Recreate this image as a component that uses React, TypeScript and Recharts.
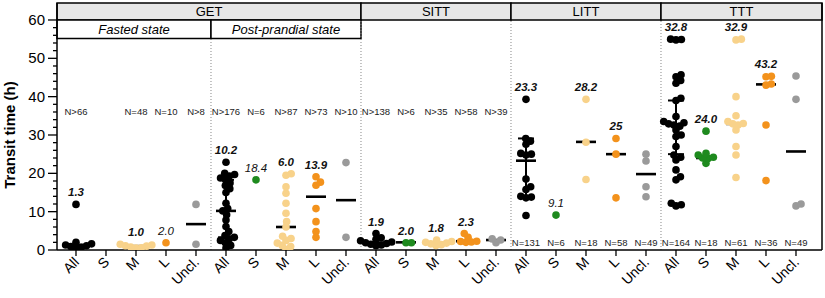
import {
  ErrorBar,
  ReferenceArea,
  ReferenceLine,
  Scatter,
  ScatterChart,
  XAxis,
  YAxis,
} from "recharts";

const FONT = '"Liberation Sans", Arial, Helvetica, sans-serif';

// x categories, five per panel: GET fasted, GET post-prandial, SITT, LITT, TTT
const tickLabels = [
  "All", "S", "M", "L", "Uncl.",
  "All", "S", "M", "L", "Uncl.",
  "All", "S", "M", "L", "Uncl.",
  "All", "S", "M", "L", "Uncl.",
  "All", "S", "M", "L", "Uncl.",
];
const COLORS = ["#000000", "#1e8a1e", "#f8d28a", "#f3921c", "#9a9a9a"];

// transit times (h), one list per category (All, S, M, L, Uncl.)
const getFasted: number[][] = [
  [11.9, 2.0, 1.6, 1.3, 1.1, 0.9, 0.7, 0.5],
  [],
  [1.5, 1.3, 1.1, 1.0, 0.8, 0.6, 0.5],
  [1.9],
  [11.9, 1.5],
];
const getPostPrandial: number[][] = [
  [22.9, 20.0, 19.7, 19.3, 18.8, 18.3, 17.5, 16.8, 16.0, 15.0, 12.2, 10.8, 10.2, 9.2, 7.8, 6.1, 4.8, 3.8, 3.3, 2.9, 2.5, 1.9, 1.2, 0.5],
  [18.3],
  [19.9, 19.5, 16.5, 14.8, 12.2, 9.6, 7.4, 6.0, 3.6, 3.0, 2.5, 1.8, 1.2, 0.9, 0.2],
  [19.1, 17.7, 16.9, 10.8, 7.4, 4.8, 3.3],
  [22.8, 3.3],
];
const sitt: number[][] = [
  [4.3, 3.2, 2.8, 2.4, 2.1, 1.9, 1.7, 1.5, 1.3, 1.1],
  [1.9, 1.9],
  [2.6, 2.2, 2.0, 1.8, 1.6, 1.4, 1.2],
  [4.3, 3.3, 2.3, 2.2, 2.1, 2.0],
  [2.9, 2.6, 1.9],
];
const litt: number[][] = [
  [39.3, 29.1, 28.4, 27.6, 25.2, 25.0, 24.8, 18.5, 16.5, 15.8, 14.0, 13.8, 13.6, 9.0],
  [9.1],
  [39.3, 28.1, 18.4],
  [29.1, 25.0, 13.6],
  [25.0, 23.2, 16.5, 13.9],
];
const ttt: number[][] = [
  [55.0, 54.9, 54.8, 45.7, 45.2, 44.2, 43.5, 39.6, 39.0, 34.8, 33.5, 33.2, 32.9, 32.6, 32.3, 31.3, 30.0, 29.6, 27.0, 24.8, 24.2, 23.5, 20.9, 19.1, 18.3, 12.2, 11.8, 11.5],
  [31.0, 25.2, 24.8, 24.2, 24.0, 23.9, 22.6],
  [55.0, 54.8, 40.0, 35.0, 33.5, 33.0, 32.9, 32.6, 31.3, 27.0, 24.8, 18.9],
  [45.3, 45.2, 43.3, 43.0, 32.6, 18.1],
  [45.4, 39.3, 12.0, 11.5],
];

const medians: (number | null)[] = [
  1.3, null, 1.0, null, 6.75,
  10.2, null, 6.0, 13.9, 13.0,
  1.9, 2.0, 1.8, 2.3, 2.6,
  23.3, null, 28.2, 25, 19.8,
  32.8, 24.0, 32.9, 43.2, 25.7,
];
const medianLabels = [
  "1.3", "", "1.0", "2.0", "",
  "10.2", "18.4", "6.0", "13.9", "",
  "1.9", "2.0", "1.8", "2.3", "",
  "23.3", "9.1", "28.2", "25", "",
  "32.8", "24.0", "32.9", "43.2", "",
];
const singleStudy = [3, 6, 16];
const iqrGroups = [5, 15, 20];
const iqrLow = [3.3, 14.0, 25.0];
const iqrHigh = [18.3, 29.1, 39.0];
const nLabels = [
  "N>66", "", "N=48", "N=10", "N>8",
  "N>176", "N=6", "N>87", "N>73", "N>10",
  "N>138", "N>6", "N>35", "N>58", "N>39",
  "N=131", "N=6", "N=18", "N=58", "N=49",
  "N=164", "N=18", "N=61", "N=36", "N=49",
];

const groups = [...getFasted, ...getPostPrandial, ...sitt, ...litt, ...ttt];

const X_MIN = -0.633;
const X_MAX = 24.867;
const Y_MAX = 64.43;
const PX_X = 30;
const PX_Y = 3.83;
const GAP = 5.4;

// simple beeswarm so that overlapping dots spread sideways
function swarm(values: number[]) {
  const sorted = [...values].sort((a, b) => a - b);
  const placed: { x: number; y: number }[] = [];
  for (const v of sorted) {
    const y = v * PX_Y;
    const cands = [0];
    for (const p of placed) {
      const dy = Math.abs(p.y - y);
      if (dy < GAP) {
        const dx = Math.sqrt(GAP * GAP - dy * dy);
        cands.push(p.x + dx, p.x - dx);
      }
    }
    cands.sort((a, b) => Math.abs(a) - Math.abs(b));
    const ok = cands.find((c) => placed.every((p) => (p.x - c) ** 2 + (p.y - y) ** 2 >= GAP * GAP - 0.01));
    placed.push({ x: ok ?? 0, y });
  }
  return sorted.map((v, i) => ({ v, dx: placed[i].x / PX_X }));
}

const pointsByColor = COLORS.map((_, c) =>
  groups.flatMap((vals, g) => (g % 5 === c ? swarm(vals).map((p) => ({ x: g + p.dx, y: p.v })) : []))
);
const medianData = medians.flatMap((m, g) => (m == null ? [] : [{ x: g, y: m }]));
const iqrData = iqrGroups.map((g, i) => {
  const m = medians[g] as number;
  return { x: g, y: m, err: [m - iqrLow[i], iqrHigh[i] - m] };
});
const labelData = groups.flatMap((vals, g) =>
  medianLabels[g] ? [{ x: g, y: Math.max(...vals), text: medianLabels[g], plain: singleStudy.includes(g) }] : []
);
const nData = nLabels.flatMap((t, g) => (t ? [{ x: g, y: g < 15 ? 36 : 1.9, text: t }] : []));

const yTicks = Array.from({ length: 31 }, (_, i) => i * 2);

function YTick({ x, y, payload }: any) {
  const major = payload.value % 10 === 0;
  return (
    <g>
      <line x1={x - (major ? 9 : 4)} x2={x} y1={y} y2={y} stroke="#000" strokeWidth={1.3} />
      {major && (
        <text x={x - 12} y={y} dy={5} textAnchor="end" fontSize={15} fontFamily={FONT} fill="#000">
          {payload.value}
        </text>
      )}
    </g>
  );
}

function XTick({ x, y, payload }: any) {
  const px = x + 4;
  const py = y + 5;
  return (
    <text x={px} y={py} transform={`rotate(-45 ${px} ${py})`} textAnchor="end" fontSize={14} fontFamily={FONT} fill="#000">
      {tickLabels[payload.value]}
    </text>
  );
}

const headerLabel = (value: string, italic = false) => ({
  value,
  position: "center" as const,
  fill: "#000",
  fontSize: 13,
  fontFamily: FONT,
  fontStyle: italic ? "italic" : "normal",
});

export default function App() {
  return (
    <div style={{ position: "absolute", left: 0, top: 0, background: "#fff" }}>
      <ScatterChart width={825} height={298} margin={{ top: 3, right: 3, bottom: 0, left: 0 }}>
        <XAxis
          type="number"
          dataKey="x"
          domain={[X_MIN, X_MAX]}
          allowDataOverflow
          ticks={tickLabels.map((_, i) => i)}
          interval={0}
          height={48}
          tickSize={6}
          tickLine={{ stroke: "#000", strokeWidth: 1.3 }}
          axisLine={{ stroke: "#000", strokeWidth: 1.5 }}
          tick={<XTick />}
        />
        <YAxis
          type="number"
          dataKey="y"
          domain={[0, Y_MAX]}
          allowDataOverflow
          ticks={yTicks}
          interval={0}
          width={57}
          tickSize={0}
          tickMargin={0}
          tickLine={false}
          axisLine={{ stroke: "#000", strokeWidth: 1.5 }}
          tick={<YTick />}
          label={{
            content: ({ viewBox }: any) => {
              const cx = viewBox.x + 15;
              const cy = viewBox.y + viewBox.height - 115;
              return (
                <text x={cx} y={cy} transform={`rotate(-90 ${cx} ${cy})`} textAnchor="middle" fontSize={15} fontWeight="bold" fontFamily={FONT} fill="#000">
                  Transit time (h)
                </text>
              );
            },
          }}
        />

        <ReferenceLine segment={[{ x: 4.5, y: 0 }, { x: 4.5, y: 55.2 }]} stroke="#888" strokeDasharray="1 2" />
        <ReferenceLine segment={[{ x: 9.5, y: 0 }, { x: 9.5, y: 60 }]} stroke="#888" strokeDasharray="1 2" />
        <ReferenceLine segment={[{ x: 14.5, y: 0 }, { x: 14.5, y: 60 }]} stroke="#888" strokeDasharray="1 2" />
        <ReferenceLine segment={[{ x: 19.5, y: 0 }, { x: 19.5, y: 60 }]} stroke="#888" strokeDasharray="1 2" />
        <ReferenceLine x={X_MAX} stroke="#000" strokeWidth={1.5} ifOverflow="visible" />

        <ReferenceArea x1={X_MIN} x2={9.5} y1={60} y2={Y_MAX} fill="#e6e6e6" fillOpacity={1} stroke="#000" strokeWidth={1.5} label={headerLabel("GET")} />
        <ReferenceArea x1={9.5} x2={14.5} y1={60} y2={Y_MAX} fill="#e6e6e6" fillOpacity={1} stroke="#000" strokeWidth={1.5} label={headerLabel("SITT")} />
        <ReferenceArea x1={14.5} x2={19.5} y1={60} y2={Y_MAX} fill="#e6e6e6" fillOpacity={1} stroke="#000" strokeWidth={1.5} label={headerLabel("LITT")} />
        <ReferenceArea x1={19.5} x2={X_MAX} y1={60} y2={Y_MAX} fill="#e6e6e6" fillOpacity={1} stroke="#000" strokeWidth={1.5} label={headerLabel("TTT")} />
        <ReferenceArea x1={X_MIN} x2={4.5} y1={55.2} y2={60} fill="#fff" fillOpacity={1} stroke="#000" strokeWidth={1.5} label={headerLabel("Fasted state", true)} />
        <ReferenceArea x1={4.5} x2={9.5} y1={55.2} y2={60} fill="#fff" fillOpacity={1} stroke="#000" strokeWidth={1.5} label={headerLabel("Post-prandial state", true)} />

        <Scatter data={iqrData} isAnimationActive={false} shape={() => <g />}>
          <ErrorBar dataKey="err" direction="y" width={8} stroke="#000" strokeWidth={2} />
        </Scatter>
        <Scatter
          data={medianData}
          isAnimationActive={false}
          shape={(p: any) => <line x1={p.cx - 10} x2={p.cx + 10} y1={p.cy} y2={p.cy} stroke="#000" strokeWidth={2.6} />}
        />
        {pointsByColor.map((pts, c) => (
          <Scatter
            key={c}
            data={pts}
            isAnimationActive={false}
            shape={(p: any) => <circle cx={p.cx} cy={p.cy} r={3.8} fill={COLORS[c]} />}
          />
        ))}
        <Scatter
          data={labelData}
          isAnimationActive={false}
          shape={(p: any) => (
            <text x={p.cx} y={p.cy - 8} textAnchor="middle" fontSize={11.5} fontStyle="italic" fontWeight={p.payload.plain ? "normal" : "bold"} fontFamily={FONT} fill="#111">
              {p.payload.text}
            </text>
          )}
        />
        <Scatter
          data={nData}
          isAnimationActive={false}
          shape={(p: any) => (
            <text x={p.cx} y={p.cy} dy={3.5} textAnchor="middle" fontSize={9.5} fontFamily={FONT} fill="#222">
              {p.payload.text}
            </text>
          )}
        />
      </ScatterChart>
    </div>
  );
}
